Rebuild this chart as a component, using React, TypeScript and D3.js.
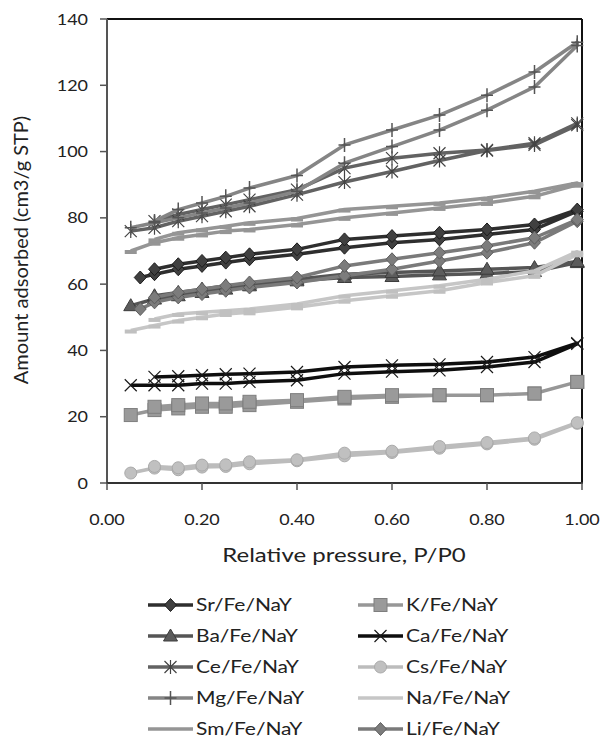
import React from "react";
import * as d3 from "d3";

const pAds = [0.05, 0.1, 0.15, 0.2, 0.25, 0.3, 0.4, 0.5, 0.6, 0.7, 0.8, 0.9, 0.99];
const pAdsLate = [0.07, 0.1, 0.15, 0.2, 0.25, 0.3, 0.4, 0.5, 0.6, 0.7, 0.8, 0.9, 0.99];
const pDes = [0.99, 0.9, 0.8, 0.7, 0.6, 0.5, 0.4, 0.3, 0.25, 0.2, 0.15, 0.1];

const srAds = [62, 63, 64.5, 65.5, 66.5, 67.5, 69, 71, 72.5, 73.5, 75, 76.5, 82];
const srDes = [82.5, 78, 76.5, 75.5, 74.5, 73.5, 70.5, 69, 68, 67, 66, 64.5];
const kAds = [20.5, 22, 22.5, 23, 23, 23.5, 24.5, 25.5, 26, 26.5, 26.5, 27, 30.5];
const kDes = [30.5, 27, 26.5, 26.5, 26.5, 26, 25, 24.5, 24, 24, 23.5, 23];
const baAds = [53.5, 55.5, 56.5, 57.5, 58.5, 59.5, 61, 62, 62.3, 62.8, 63.2, 63.8, 66.5];
const baDes = [66.8, 65, 64.5, 64, 63.5, 63, 61.5, 60, 59.5, 58.5, 57.5, 56.5];
const caAds = [29.5, 29.5, 29.5, 30, 30, 30.5, 31, 33, 33.6, 34, 35, 36.5, 42];
const caDes = [42.2, 38, 36.5, 35.8, 35.5, 35, 33.5, 33, 32.8, 32.5, 32.2, 32];
const ceAds = [76, 77, 79, 80.5, 82, 83.5, 87, 90.8, 94, 97.3, 100.3, 102, 108];
const ceDes = [108.5, 102.5, 100.5, 99.5, 98, 95, 88.5, 85.5, 84, 82.5, 81, 79];
const csAds = [3, 4.5, 4, 4.8, 5, 5.8, 6.7, 8.2, 9.2, 10.5, 11.8, 13.2, 18];
const csDes = [18.2, 13.6, 12.2, 11, 9.6, 9, 7, 6.4, 5.5, 5.4, 4.6, 5];
const mgAds = [77, 78.5, 80, 81.5, 83, 84.5, 88, 96.5, 101.5, 106.5, 112.5, 119.5, 132];
const mgDes = [133, 124, 117, 111, 106.5, 102, 92.8, 89, 86.5, 84.5, 82.5, 79];
const naAds = [46, 47.5, 49, 50, 51, 51.5, 53, 55, 56.5, 58, 60.5, 62.5, 69];
const naDes = [69.8, 64, 61.5, 59.5, 58, 56.5, 54, 52.5, 52, 51.5, 51, 49.5];
const smAds = [70, 72.5, 74, 75, 76, 76.5, 78, 80, 81.5, 83, 84.5, 86.5, 90];
const smDes = [90.5, 88, 86, 84.5, 83.5, 82.5, 79.8, 78.5, 77.5, 76.5, 75.5, 73.5];
const liAds = [52.5, 54.5, 56, 57, 58, 59, 60.5, 62.5, 64.5, 67, 69.5, 72.5, 79];
const liDes = [79.5, 74, 71.5, 69.5, 67.5, 65.5, 62, 60.5, 59.5, 58.5, 57.5, 56];

const seriesNames = [
  "Sr/Fe/NaY", "K/Fe/NaY", "Ba/Fe/NaY", "Ca/Fe/NaY", "Ce/Fe/NaY",
  "Cs/Fe/NaY", "Mg/Fe/NaY", "Na/Fe/NaY", "Sm/Fe/NaY", "Li/Fe/NaY",
];
const yTicks = [0, 20, 40, 60, 80, 100, 120, 140];
const xTicks = [0, 0.2, 0.4, 0.6, 0.8, 1.0];

type Style = { color: string; marker: string; fill: string; mstroke: string };
const styles: Style[] = [
  { color: "#2e2e2e", marker: "diamond", fill: "#404040", mstroke: "#1c1c1c" },
  { color: "#979797", marker: "square", fill: "#9a9a9a", mstroke: "#7e7e7e" },
  { color: "#555555", marker: "triangle", fill: "#5c5c5c", mstroke: "#3c3c3c" },
  { color: "#0e0e0e", marker: "x", fill: "none", mstroke: "#1a1a1a" },
  { color: "#626262", marker: "asterisk", fill: "none", mstroke: "#444" },
  { color: "#bcbcbc", marker: "circle", fill: "#c0c0c0", mstroke: "#aaaaaa" },
  { color: "#858585", marker: "plus", fill: "none", mstroke: "#555" },
  { color: "#c6c6c6", marker: "dash", fill: "#c0c0c0", mstroke: "none" },
  { color: "#959595", marker: "dash", fill: "#959595", mstroke: "none" },
  { color: "#7a7a7a", marker: "diamond", fill: "#7c7c7c", mstroke: "#5e5e5e" },
];

const allData = [
  [pAdsLate, srAds, srDes], [pAds, kAds, kDes], [pAds, baAds, baDes], [pAds, caAds, caDes],
  [pAds, ceAds, ceDes], [pAds, csAds, csDes], [pAds, mgAds, mgDes], [pAds, naAds, naDes],
  [pAds, smAds, smDes], [pAdsLate, liAds, liDes],
] as number[][][];

const x = d3.scaleLinear().domain([0, 1]).range([107, 582]);
const y = d3.scaleLinear().domain([0, 140]).range([483, 19]);
const line = d3.line<[number, number]>().x((d) => x(d[0])).y((d) => y(d[1]));

const FONT = "Lato, 'Open Sans', sans-serif";
const SX = 1.2;

function SText({ x: tx, y: ty, size, anchor, children }: { x: number; y: number; size: number; anchor?: string; children: React.ReactNode }) {
  return (
    <text transform={`translate(${tx},${ty}) scale(${SX},1)`} textAnchor={anchor || "start"} fontFamily={FONT} fontSize={size} fill="#222">
      {children}
    </text>
  );
}

function Marker({ cx, cy, s }: { cx: number; cy: number; s: Style }) {
  const r = 6;
  switch (s.marker) {
    case "diamond":
      return <path d={`M${cx},${cy - r - 0.5}L${cx + r},${cy}L${cx},${cy + r + 0.5}L${cx - r},${cy}Z`} fill={s.fill} stroke={s.mstroke} strokeWidth={1} />;
    case "square":
      return <rect x={cx - 6.5} y={cy - 6.5} width={13} height={13} fill={s.fill} stroke={s.mstroke} strokeWidth={1} />;
    case "triangle":
      return <path d={`M${cx},${cy - 7}L${cx + 7},${cy + 5}L${cx - 7},${cy + 5}Z`} fill={s.fill} stroke={s.mstroke} strokeWidth={1} />;
    case "circle":
      return <circle cx={cx} cy={cy} r={6} fill={s.fill} stroke={s.mstroke} strokeWidth={1} />;
    case "x":
      return <path d={`M${cx - 6},${cy - 6}L${cx + 6},${cy + 6}M${cx - 6},${cy + 6}L${cx + 6},${cy - 6}`} stroke={s.mstroke} strokeWidth={1.2} fill="none" />;
    case "asterisk":
      return <path d={`M${cx - 6},${cy - 6}L${cx + 6},${cy + 6}M${cx - 6},${cy + 6}L${cx + 6},${cy - 6}M${cx},${cy - 7}L${cx},${cy + 7}`} stroke={s.mstroke} strokeWidth={1.2} fill="none" />;
    case "plus":
      return <path d={`M${cx},${cy - 7}L${cx},${cy + 7}M${cx - 6},${cy}L${cx + 6},${cy}`} stroke={s.mstroke} strokeWidth={1.5} fill="none" />;
    case "dash":
      return <rect x={cx - 6} y={cy - 1} width={12} height={4} fill={s.fill} />;
  }
  return null;
}

export default function App() {
  const legendRows = [605, 636, 667, 698, 729];
  return (
    <svg width={601} height={738} style={{ position: "absolute", left: 0, top: 0, background: "#fff" }}>
      <rect x={0} y={0} width={601} height={738} fill="#fff" />
      <line x1={107} y1={19} x2={582} y2={19} stroke="#111" strokeWidth={2} />
      <line x1={582} y1={19} x2={582} y2={483} stroke="#111" strokeWidth={2} />
      <line x1={107} y1={19} x2={107} y2={484} stroke="#555" strokeWidth={2} />
      <line x1={106} y1={483} x2={583} y2={483} stroke="#333" strokeWidth={2} />
      {yTicks.map((t) => (
        <g key={"y" + t}>
          <line x1={100} x2={107} y1={y(t)} y2={y(t)} stroke="#555" strokeWidth={1.5} />
          <SText x={88} y={y(t) + 5.5} size={15} anchor="end">{t}</SText>
        </g>
      ))}
      {xTicks.map((t) => (
        <g key={"x" + t}>
          <line x1={x(t)} x2={x(t)} y1={483} y2={490} stroke="#555" strokeWidth={1.5} />
          <SText x={x(t)} y={525} size={15} anchor="middle">{t.toFixed(2)}</SText>
        </g>
      ))}
      <SText x={344} y={562} size={20} anchor="middle">Relative pressure, P/P0</SText>
      <text transform="translate(28,250) rotate(-90)" textAnchor="middle" fontFamily={FONT} fontSize={20} fill="#222">Amount adsorbed (cm3/g STP)</text>

      {allData.map(([pa, ads, des], i) => {
        const s = styles[i];
        const pts: [number, number][] = [
          ...pa.map((p, j) => [p, ads[j]] as [number, number]),
          ...pDes.map((p, j) => [p, des[j]] as [number, number]),
        ];
        return (
          <g key={"s" + i}>
            <path d={line(pts) || ""} fill="none" stroke={s.color} strokeWidth={3.5} strokeLinejoin="round" />
            {pts.map((d, j) => (
              <Marker key={j} cx={x(d[0])} cy={y(d[1])} s={s} />
            ))}
          </g>
        );
      })}

      {seriesNames.map((name, i) => {
        const col = i % 2;
        const row = Math.floor(i / 2);
        const x0 = col === 0 ? 148 : 358;
        const cy = legendRows[row];
        const s = styles[i];
        return (
          <g key={"l" + i}>
            <line x1={x0} x2={x0 + 45} y1={cy} y2={cy} stroke={s.color} strokeWidth={3.5} />
            {s.marker !== "dash" && <Marker cx={x0 + 22.5} cy={cy} s={s} />}
            <SText x={x0 + 48} y={cy + 6} size={17.5}>{name}</SText>
          </g>
        );
      })}
    </svg>
  );
}
